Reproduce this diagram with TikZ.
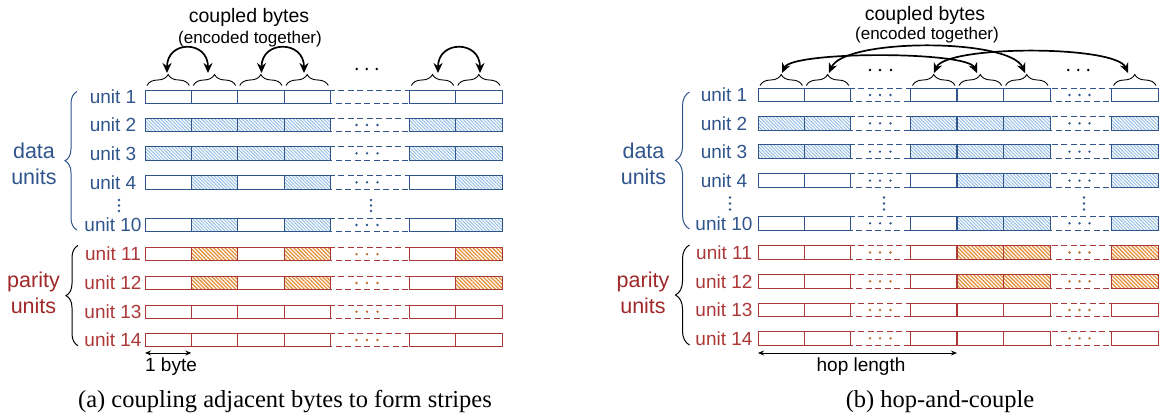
\documentclass[tikz,border=0pt]{standalone}
\usepackage{fontspec}
\setmainfont{Liberation Serif}
\setsansfont{Liberation Sans}
\usetikzlibrary{arrows.meta,decorations.pathreplacing,patterns.meta}
\definecolor{dblue}{RGB}{47,85,140}
\definecolor{hblue}{RGB}{150,190,228}
\definecolor{pred}{RGB}{160,40,40}
\definecolor{predl}{RGB}{172,55,55}
\definecolor{horange}{RGB}{228,145,60}
\definecolor{pdot}{RGB}{185,110,45}
\begin{document}
\begin{tikzpicture}[x=1pt,y=-1pt,
 ulbl/.style={font=\sffamily\fontsize{19}{22}\selectfont, inner sep=0pt},
 grp/.style={font=\sffamily\fontsize{21.5}{26}\selectfont, inner sep=0pt, align=center},
 ttl/.style={font=\sffamily\fontsize{19.5}{22}\selectfont, inner sep=0pt},
 subttl/.style={font=\sffamily\fontsize{17}{20}\selectfont, inner sep=0pt},
 captxt/.style={font=\fontsize{24.5}{28}\selectfont, inner sep=0pt},
 cellline/.style={line width=0.95pt},
 seg/.style={line width=0.95pt, dash pattern=on 6pt off 3.5pt},
 hatchb/.style={pattern={Lines[angle=-45,distance=2.4pt,line width=1pt]}},
 hatcho/.style={pattern={Lines[angle=-45,distance=2.7pt,line width=1.3pt]}},
 topbrace/.style={decorate, decoration={brace, amplitude=11pt}, line width=0.9pt, draw=black},
 sidebrace/.style={decorate, decoration={brace, amplitude=#1}, line width=1pt},
 dbl/.style={{Stealth[length=10pt,width=9pt]}-{Stealth[length=10pt,width=9pt]}, line width=1.7pt},
 dimarrow/.style={{Stealth[length=6pt,width=5pt]}-{Stealth[length=6pt,width=5pt]}, line width=0.9pt},
]
\useasboundingbox (0,0) rectangle (1159,420);

%% ================= panel (a) =================
\foreach \y/\n/\sc/\hc/\dc/\hs/\fl in {
 96.7/1/dblue/hblue/none/hatchb/{0,0,0,0,0,0},
 125/2/dblue/hblue/dblue/hatchb/{1,1,1,1,1,1},
 153.3/3/dblue/hblue/dblue/hatchb/{1,1,1,1,1,1},
 182.3/4/dblue/hblue/dblue/hatchb/{0,1,0,1,0,1},
 225/10/dblue/hblue/dblue/hatchb/{0,1,0,1,0,1},
 254.2/11/predl/horange/pdot/hatcho/{0,1,0,1,0,1},
 283/12/predl/horange/pdot/hatcho/{0,1,0,1,0,1},
 311.7/13/predl/horange/pdot/hatcho/{0,0,0,0,0,0},
 340/14/predl/horange/pdot/hatcho/{0,0,0,0,0,0}}{
  \node[ulbl,text=\sc] (ua\n) at (113,\y) {unit \n};
  \draw[\sc,seg] (330.3,\y-6.7) rectangle (409.3,\y+6.7);
  \foreach \dx in {356.5,367,377.5} \path[fill=\dc] (\dx,\y) circle[radius=1.3];
  \foreach \f [count=\i] in \fl {
    \pgfmathsetmacro\xx{{145,191.3,237.7,284,409.3,455.7}[\i-1]}
    \ifnum\f=1
      \draw[\sc,cellline,\hs,pattern color=\hc] (\xx,\y-6.7) rectangle ++(46.3,13.4);
    \else
      \draw[\sc,cellline,fill=white] (\xx,\y-6.7) rectangle ++(46.3,13.4);
    \fi
  }
}
% vertical dots
\foreach \vx in {119,371} \foreach \vy in {200,205.5,211} \fill[dblue] (\vx,\vy) circle[radius=1.3];
% side braces and group labels
\draw[dblue, sidebrace=12pt] (77,230) -- (77,91.5);
\draw[black, sidebrace=12pt] (78,345.7) -- (78,245.5);
\node[grp,text=dblue] (dataA) at (34,164) {data\\units};
\node[grp,text=pred] (parA) at (33.5,293) {parity\\units};
% top braces
\foreach \l/\r in {145/191.3,191.3/237.7,237.7/284,284/330.3,409.3/455.7,455.7/502}
  \draw[topbrace] (\l+2,85.5) -- (\r-2,85.5);
% couple arrows
\coordinate (a1l) at (167,73); \coordinate (a1r) at (208,73);
\coordinate (a2l) at (261.5,73); \coordinate (a2r) at (304,73);
\coordinate (a3l) at (438,73); \coordinate (a3r) at (480,73);
\foreach \k in {1,2,3}
  \draw[dbl] (a\k l) .. controls +(0,-33) and +(0,-33) .. (a\k r);
\foreach \dx in {356.7,366.7,376.7} \fill[black] (\dx,69) circle[radius=1.4];
\node[ttl] (titA) at (249,17) {coupled bytes};
\node[subttl] (subA) at (250,39.3) {(encoded together)};
% 1 byte
\coordinate (byl) at (145,353); \coordinate (byr) at (191.3,353);
\draw[dimarrow] (byl) -- (byr);
\node[ulbl] (byte) at (171,367) {1 byte};
\node[captxt] (capA) at (285,402) {(a) coupling adjacent bytes to form stripes};

%% ================= panel (b) =================
\foreach \y/\n/\sc/\hc/\dc/\hs/\fl in {
 95/1/dblue/hblue/dblue/hatchb/{0,0,0,0,0,0},
 123.3/2/dblue/hblue/dblue/hatchb/{1,1,1,1,1,1},
 151.6/3/dblue/hblue/dblue/hatchb/{1,1,1,1,1,1},
 180.6/4/dblue/hblue/dblue/hatchb/{0,0,0,1,1,1},
 223.3/10/dblue/hblue/dblue/hatchb/{0,0,0,1,1,1},
 252.5/11/predl/horange/pdot/hatcho/{0,0,0,1,1,1},
 281.3/12/predl/horange/pdot/hatcho/{0,0,0,1,1,1},
 310/13/predl/horange/pdot/hatcho/{0,0,0,0,0,0},
 338.3/14/predl/horange/pdot/hatcho/{0,0,0,0,0,0}}{
  \node[ulbl,text=\sc] (ub\n) at (724,\y) {unit \n};
  \draw[\sc,seg] (850.8,\y-6.7) rectangle (910.5,\y+6.7);
  \draw[\sc,seg] (1050,\y-6.7) rectangle (1111.6,\y+6.7);
  \foreach \dx in {870,880,890.5,1069.5,1079.5,1089.5} \path[fill=\dc] (\dx,\y) circle[radius=1.3];
  \foreach \f [count=\i] in \fl {
    \pgfmathsetmacro\xx{{758,804.4,910.5,957,1003.6,1111.6}[\i-1]}
    \ifnum\f=1
      \draw[\sc,cellline,\hs,pattern color=\hc] (\xx,\y-6.7) rectangle ++(46.4,13.4);
    \else
      \draw[\sc,cellline,fill=white] (\xx,\y-6.7) rectangle ++(46.4,13.4);
    \fi
  }
}
\foreach \vx in {730,884,1084} \foreach \vy in {197.5,203.5,209.5} \fill[dblue] (\vx,\vy) circle[radius=1.3];
\draw[dblue, sidebrace=14pt] (689.5,229) -- (689.5,92);
\draw[black, sidebrace=14pt] (689.5,345) -- (689.5,245);
\node[grp,text=dblue] (dataB) at (643.5,164) {data\\units};
\node[grp,text=pred] (parB) at (643,293) {parity\\units};
\foreach \l/\r in {758/804.4,804.4/850.8,910.5/957,957/1003.6,1003.6/1050,1111.6/1158}
  \draw[topbrace] (\l+2,85.5) -- (\r-2,85.5);
\coordinate (b1l) at (782,73); \coordinate (b1r) at (977,73);
\coordinate (b2l) at (829,73); \coordinate (b2r) at (1025,73);
\coordinate (b3l) at (934,73); \coordinate (b3r) at (1128,73);
\draw[dbl] (b1l) .. controls +(10,-22) and +(-10,-22) .. (b1r);
\draw[dbl] (b2l) .. controls +(15,-35) and +(-15,-35) .. (b2r);
\draw[dbl] (b3l) .. controls +(12,-28) and +(-12,-28) .. (b3r);
\foreach \dx in {870,880,891,1068.3,1078.3,1088.3} \fill[black] (\dx,70) circle[radius=1.4];
\node[ttl] (titB) at (925,15) {coupled bytes};
\node[subttl] (subB) at (927,35.5) {(encoded together)};
\coordinate (hopl) at (758,353); \coordinate (hopr) at (957,353);
\draw[dimarrow] (hopl) -- (hopr);
\node[ulbl] (hop) at (861,367) {hop length};
\node[captxt] (capB) at (940,402) {(b) hop-and-couple};
\end{tikzpicture}
\end{document}
